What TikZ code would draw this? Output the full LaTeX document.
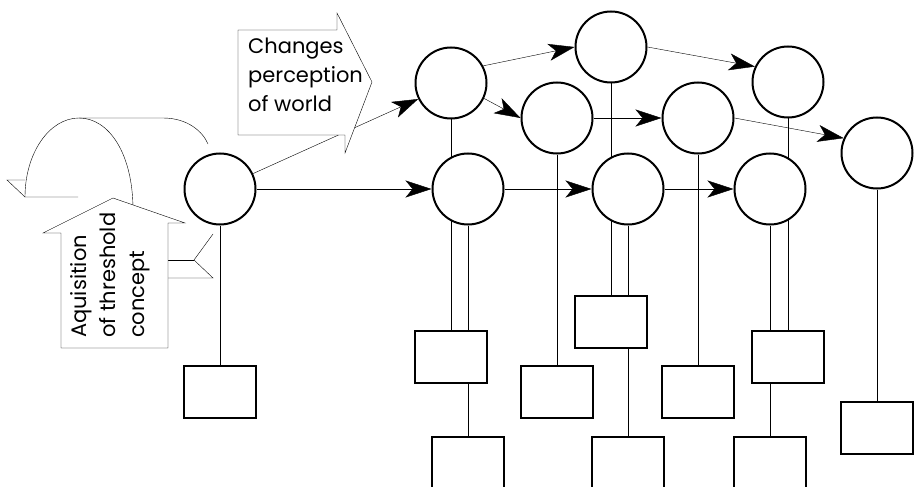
\documentclass[tikz,border=0pt]{standalone}
\usepackage{fontspec}
\setmainfont{Poppins}
\usetikzlibrary{arrows.meta}
\pgfdeclarelayer{background}
\pgfsetlayers{background,main}
\begin{document}
\begin{tikzpicture}[x=1pt,y=-1pt,line width=2pt,
  stage/.style={circle,draw,fill=white,minimum size=71pt,inner sep=0pt},
  item/.style={rectangle,draw,fill=white,minimum width=72pt,minimum height=52pt,inner sep=0pt},
  flow/.style={-{Stealth[length=26pt,width=17pt,inset=7pt]}},
  callout/.style={draw,fill=white,line join=miter},
  lbl/.style={font=\fontsize{21}{29}\selectfont,align=left,inner sep=0pt}]
\useasboundingbox (0,0) rectangle (914,487);
\clip (0,0) rectangle (914,487);

% stages
\node[stage] (C0) at (220,189) {};
\node[stage] (A1) at (451,83) {};
\node[stage] (A2) at (611,47) {};
\node[stage] (A3) at (788,82) {};
\node[stage] (B1) at (557,118) {};
\node[stage] (B2) at (698,118) {};
\node[stage] (L1) at (468,189) {};
\node[stage] (L2) at (628,189) {};
\node[stage] (L3) at (770,189) {};
\node[stage] (R)  at (877,153) {};

% items hanging below the stages
\node[item] (bC0) at (220,392) {};
\node[item] (bA1) at (451,357) {};
\node[item] (bL1) at (468,463) {};
\node[item] (bB1) at (557,392) {};
\node[item] (bA2) at (611,322) {};
\node[item] (bL2) at (628,463) {};
\node[item] (bB2) at (698,392) {};
\node[item] (bA3) at (788,357) {};
\node[item] (bL3) at (770,463) {};
\node[item] (bR)  at (877,428) {};

% vertical links, behind the shapes
\begin{pgfonlayer}{background}
  \draw (C0.south) -- (bC0.north);
  \draw (A1.south) -- (bA1.north);
  \draw (L1.south) -- (bL1.north);
  \draw (B1.south) -- (bB1.north);
  \draw (A2.south) -- (bA2.north);
  \draw (L2.south) -- (bL2.north);
  \draw (B2.south) -- (bB2.north);
  \draw (A3.south) -- (bA3.north);
  \draw (L3.south) -- (bL3.north);
  \draw (R.south)  -- (bR.north);
\end{pgfonlayer}

% directed flows
\draw[flow] (C0.25) -- (A1.206);
\draw[flow] (C0.east) -- (L1.west);
\draw[flow] (A1.28) -- (A2.west);
\draw[flow] (A1.-25) -- (B1.west);
\draw[flow] (A2.east) -- (A3.155);
\draw[flow] (B1.east) -- (B2.west);
\draw[flow] (B2.east) -- (R.156);
\draw[flow] (L1.east) -- (L2.west);
\draw[flow] (L2.east) -- (L3.west);

% curled loop on the left
\draw (25,197) .. controls (25,153.4) and (49.2,118) .. (79,118)
  .. controls (108.8,118) and (133,153.4) .. (133,210);
\draw (79,118) -- (163,118) .. controls (188,118) and (203,132) .. (208,144);
\draw[line join=miter] (78,197) -- (25,197) -- (7,180) -- (25,180);

% tail feathers of the rising arrow
\draw[line join=miter] (213,234) -- (194,260) -- (213,278) -- (168,278);
\draw (194,260) -- (168,260);

% block arrows with text
\draw[callout] (113,198) -- (185,223) -- (168,223) -- (168,348) -- (61,348)
  -- (61,233) -- (43,233) -- cycle;
\node[lbl,rotate=90,anchor=north west] (tq) at (70,338)
  {Aquisition\\of threshold\\concept};

\draw[callout] (238,30) -- (337,30) -- (337,13) -- (372,82) -- (345,153)
  -- (345,135) -- (238,135) -- cycle;
\node[lbl,anchor=north west] (tc) at (248,38)
  {Changes\\perception\\of world};
\end{tikzpicture}
\end{document}
